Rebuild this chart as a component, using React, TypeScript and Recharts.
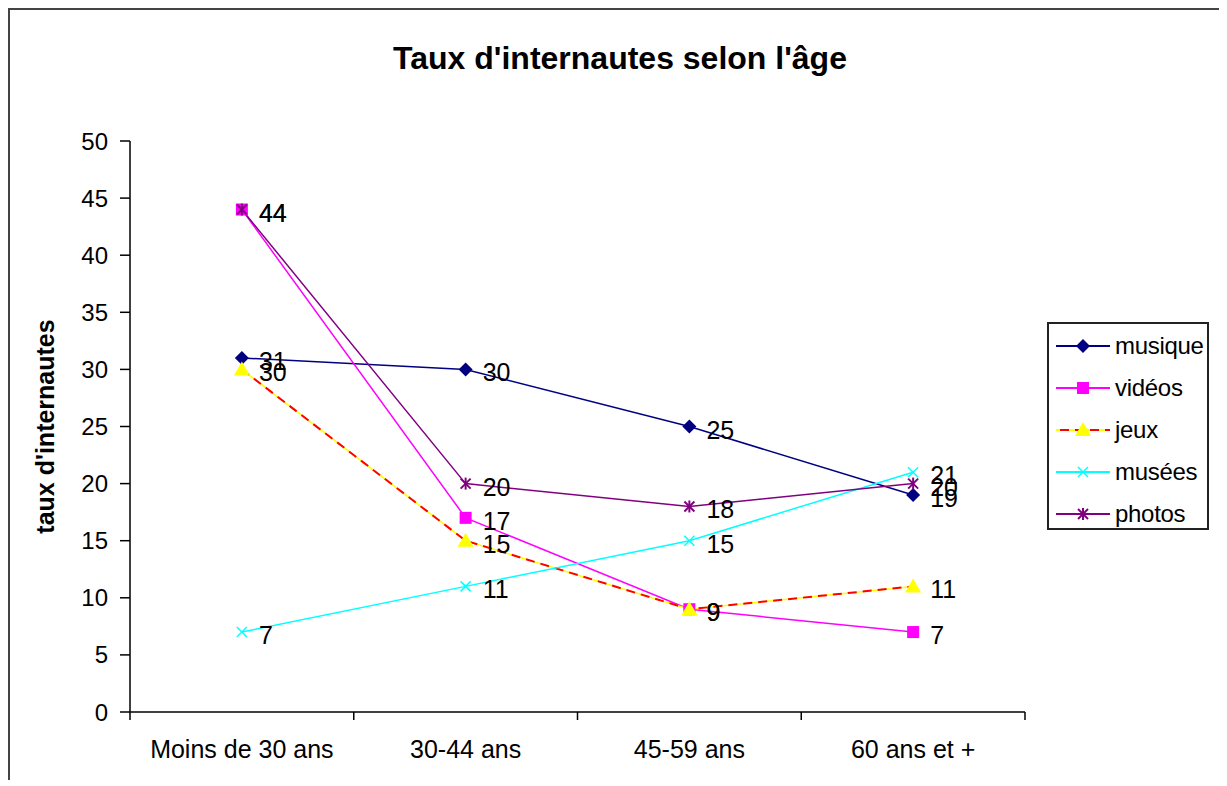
import { LineChart, Line, XAxis, YAxis } from "recharts";

const categories = ["Moins de 30 ans", "30-44 ans", "45-59 ans", "60 ans et +"];
const musique = [31, 30, 25, 19];
const videos = [44, 17, 9, 7];
const jeux = [30, 15, 9, 11];
const musees = [7, 11, 15, 21];
const photos = [44, 20, 18, 20];
const yTicks = [0, 5, 10, 15, 20, 25, 30, 35, 40, 45, 50];

const data = categories.map((name, i) => ({
  name,
  musique: musique[i],
  videos: videos[i],
  jeux: jeux[i],
  musees: musees[i],
  photos: photos[i],
}));

const FONT = '"Liberation Sans", Arial, sans-serif';
const W = 1217;
const H = 770;
const margin = { top: 131, right: 202, bottom: 8, left: 20 };
const Y_AXIS_W = 100;
const band = (W - margin.left - margin.right - Y_AXIS_W) / categories.length;

type Marker = "diamond" | "square" | "triangle" | "cross" | "star";

function MarkerShape({ kind, cx, cy, color }: { kind: Marker; cx: number; cy: number; color: string }) {
  if (kind === "diamond")
    return <polygon points={`${cx},${cy - 7} ${cx + 7},${cy} ${cx},${cy + 7} ${cx - 7},${cy}`} fill={color} />;
  if (kind === "square") return <rect x={cx - 6} y={cy - 6} width={12} height={12} fill={color} />;
  if (kind === "triangle")
    return <polygon points={`${cx},${cy - 8} ${cx + 8},${cy + 6} ${cx - 8},${cy + 6}`} fill={color} />;
  if (kind === "cross")
    return (
      <g stroke={color} strokeWidth={1.5}>
        <line x1={cx - 5} y1={cy - 5} x2={cx + 5} y2={cy + 5} />
        <line x1={cx - 5} y1={cy + 5} x2={cx + 5} y2={cy - 5} />
      </g>
    );
  return (
    <g stroke={color} strokeWidth={2}>
      <line x1={cx - 5} y1={cy - 5} x2={cx + 5} y2={cy + 5} />
      <line x1={cx - 5} y1={cy + 5} x2={cx + 5} y2={cy - 5} />
      <line x1={cx} y1={cy - 6} x2={cx} y2={cy + 6} />
    </g>
  );
}

const series: { key: string; name: string; color: string; marker: Marker; dash?: string }[] = [
  { key: "musique", name: "musique", color: "#000080", marker: "diamond" },
  { key: "videos", name: "vidéos", color: "#FF00FF", marker: "square" },
  { key: "jeux", name: "jeux", color: "#FFFF00", marker: "triangle", dash: "#FF0000" },
  { key: "musees", name: "musées", color: "#00FFFF", marker: "cross" },
  { key: "photos", name: "photos", color: "#800080", marker: "star" },
];

function renderLabel(props: any) {
  const { x, y, value, index } = props;
  return (
    <text key={`l${index}`} x={x + 17} y={y + 3} fontSize={25} fontFamily={FONT} fill="#000" dominantBaseline="central">
      {value}
    </text>
  );
}

function XTick(props: any) {
  const { x, y, payload, index } = props;
  return (
    <g>
      <line x1={x - band / 2} y1={y} x2={x - band / 2} y2={y + 8} stroke="#000" strokeWidth={1.5} />
      {index === categories.length - 1 && (
        <line x1={x + band / 2} y1={y} x2={x + band / 2} y2={y + 8} stroke="#000" strokeWidth={1.5} />
      )}
      <text x={x} y={y + 46} textAnchor="middle" fontSize={25} fontFamily={FONT} fill="#000">
        {payload.value}
      </text>
    </g>
  );
}

function YLabel(props: any) {
  const { viewBox } = props;
  const cx = viewBox.x + 15;
  const cy = viewBox.y + viewBox.height / 2;
  return (
    <text
      x={cx}
      y={cy}
      transform={`rotate(-90, ${cx}, ${cy})`}
      textAnchor="middle"
      dominantBaseline="central"
      fontSize={25}
      fontWeight="bold"
      fontFamily={FONT}
      fill="#000"
    >
      taux d'internautes
    </text>
  );
}

function LegendBox() {
  return (
    <div
      style={{
        position: "absolute",
        left: 1037,
        top: 312,
        width: 162,
        height: 208,
        border: "2px solid #222",
        boxSizing: "border-box",
        background: "#fff",
        fontFamily: FONT,
        fontSize: 24,
        letterSpacing: -0.3,
        paddingTop: 1,
      }}
    >
      {series.map((s) => (
        <div key={s.key} style={{ display: "flex", alignItems: "center", height: 42 }}>
          <svg width={62} height={20} style={{ marginLeft: 7, flexShrink: 0 }}>
            <line x1={0} y1={10} x2={54} y2={10} stroke={s.color} strokeWidth={2} />
            {s.dash && <line x1={4} y1={10} x2={54} y2={10} stroke={s.dash} strokeWidth={2} strokeDasharray="9 6" />}
            <MarkerShape kind={s.marker} cx={27} cy={10} color={s.color} />
          </svg>
          <span style={{ marginLeft: -3, lineHeight: 1 }}>{s.name}</span>
        </div>
      ))}
    </div>
  );
}

export default function App() {
  return (
    <div
      style={{
        position: "relative",
        width: W,
        height: H,
        borderTop: "2px solid #444",
        borderLeft: "2px solid #444",
        background: "#fff",
      }}
    >
      <div
        style={{
          position: "absolute",
          left: 0,
          top: 28,
          width: 1220,
          textAlign: "center",
          fontFamily: FONT,
          fontWeight: "bold",
          fontSize: 32,
          lineHeight: "40px",
        }}
      >
        Taux d'internautes selon l'âge
      </div>
      <LineChart width={W} height={H} data={data} margin={margin}>
        <XAxis
          dataKey="name"
          scale="band"
          axisLine={{ stroke: "#000", strokeWidth: 1.5 }}
          tickLine={false}
          tickSize={0}
          tickMargin={0}
          height={60}
          interval={0}
          tick={<XTick />}
        />
        <YAxis
          domain={[0, 50]}
          ticks={yTicks}
          interval={0}
          width={Y_AXIS_W}
          axisLine={{ stroke: "#000", strokeWidth: 1.5 }}
          tickLine={{ stroke: "#000", strokeWidth: 1.5 }}
          tickSize={10}
          tickMargin={12}
          tick={{ fontSize: 24, fontFamily: FONT, fill: "#000" }}
          label={<YLabel />}
        />
        {series.map((s) => [
          <Line
            key={s.key}
            dataKey={s.key}
            stroke={s.color}
            strokeWidth={1.5}
            isAnimationActive={false}
            dot={false}
          />,
          s.dash ? (
            <Line
              key={s.key + "-dash"}
              dataKey={s.key}
              stroke={s.dash}
              strokeWidth={2}
              strokeDasharray="9 6"
              isAnimationActive={false}
              dot={false}
            />
          ) : null,
          <Line
            key={s.key + "-marks"}
            dataKey={s.key}
            stroke="none"
            isAnimationActive={false}
            dot={(p: any) => (
              <g key={`d${s.key}${p.index}`}>
                <MarkerShape kind={s.marker} cx={p.cx} cy={p.cy} color={s.color} />
              </g>
            )}
            label={renderLabel}
          />,
        ])}
      </LineChart>
      <LegendBox />
    </div>
  );
}
